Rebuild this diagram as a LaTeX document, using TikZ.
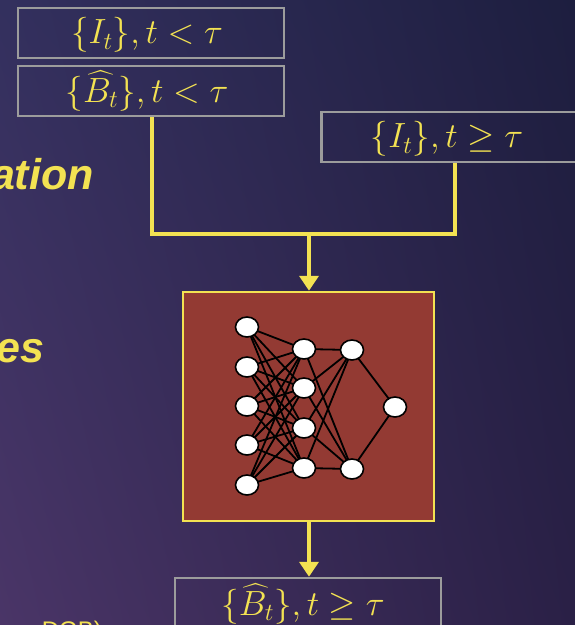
\RequirePackage{fix-cm}
\documentclass[tikz,border=0pt]{standalone}
\usepackage{amsmath}
\usepackage{fontspec}
\setsansfont{Liberation Sans}
\usetikzlibrary{arrows.meta,shapes.geometric,shadings}
\definecolor{bgUL}{HTML}{33305E}
\definecolor{bgUR}{HTML}{1D1E3F}
\definecolor{bgLL}{HTML}{4A3567}
\definecolor{bgLR}{HTML}{2A2046}
\definecolor{hiYellow}{HTML}{F3E252}
\definecolor{boxGrey}{HTML}{9C9C9C}
\definecolor{netRed}{HTML}{933A33}
\tikzset{
  databox/.style={draw=boxGrey, line width=2.5pt, minimum width=266pt, minimum height=50pt, inner sep=0pt},
  mathtxt/.style={text=hiYellow, font=\fontsize{35}{40}\selectfont, inner sep=0pt},
  flow/.style={draw=hiYellow, line width=4pt},
  flowarrow/.style={flow, -{Triangle[width=19pt,length=15pt]}},
  netbox/.style={draw=hiYellow, fill=netRed, line width=2.5pt, minimum width=251pt, minimum height=229pt, inner sep=0pt},
  neuron/.style={ellipse, draw=black, fill=white, line width=1.6pt, minimum width=23pt, minimum height=20pt, inner sep=0pt},
  link/.style={draw=black, line width=1.8pt},
  sidetxt/.style={text=hiYellow, font=\sffamily\bfseries\itshape\fontsize{43}{50}\selectfont, inner sep=0pt, anchor=base east}
}
\begin{document}
\begin{tikzpicture}[x=1pt,y=-1pt]
  % background
  \useasboundingbox (0,0) rectangle (575,625);
  \shade[upper left=bgUL, upper right=bgUR, lower left=bgLL, lower right=bgLR] (0,0) rectangle (575,625);

  % partially visible side text
  \node[sidetxt] (sideA) at (94,189) {ation};
  \node[sidetxt] (sideB) at (45,362) {es};
  \node[text=hiYellow, font=\sffamily\fontsize{24}{28}\selectfont, inner sep=0pt, anchor=base east] (sideC) at (102,638) {o DGB)};

  % input boxes
  \node[databox] (pastI) at (151,33) {};
  \node[mathtxt] (pastItxt) at (147,35) {$\{I_t\}, t < \tau$};
  \node[databox] (pastB) at (151,91) {};
  \node[mathtxt] (pastBtxt) at (147,91) {$\{\widehat{B_t}\}, t < \tau$};
  \node[databox, minimum width=290pt, anchor=west] (curI) at (320,137) {};
  \node[mathtxt] (curItxt) at (447,139) {$\{I_t\}, t \ge \tau$};

  % network box
  \node[netbox] (net) at (308.5,406.5) {};

  % output box
  \node[databox] (outB) at (308,603) {};
  \node[mathtxt] (outBtxt) at (303,604) {$\{\widehat{B_t}\}, t \ge \tau$};

  % merging connectors
  \coordinate (joinL) at (152,234);
  \coordinate (joinR) at (455,234);
  \coordinate (joinM) at (309,234);
  \draw[flow] (pastB.south -| joinL) -- (joinL) -- (joinR) -- (curI.south -| joinR);
  \draw[flowarrow] (joinM) -- (joinM |- net.north);
  \draw[flowarrow] (net.south -| joinM) -- (joinM |- outB.north);

  % neural network: node positions
  \foreach \i/\y in {1/327,2/367,3/406,4/445,5/485}
    \coordinate (a\i) at (247,\y);
  \foreach \j/\y in {1/349,2/388,3/428,4/468}
    \coordinate (b\j) at (304,\y);
  \coordinate (c1) at (352,350);
  \coordinate (c2) at (352,469);
  \coordinate (d1) at (395,407);
  % links
  \foreach \i in {1,...,5}
    \foreach \j in {1,...,4}
      \draw[link] (a\i) -- (b\j);
  \foreach \j in {1,...,4}
    \foreach \k in {1,2}
      \draw[link] (b\j) -- (c\k);
  \foreach \k in {1,2}
    \draw[link] (c\k) -- (d1);
  % neurons on top of the links
  \foreach \n in {a1,a2,a3,a4,a5,b1,b2,b3,b4,c1,c2,d1}
    \node[neuron] (n-\n) at (\n) {};
\end{tikzpicture}
\end{document}
